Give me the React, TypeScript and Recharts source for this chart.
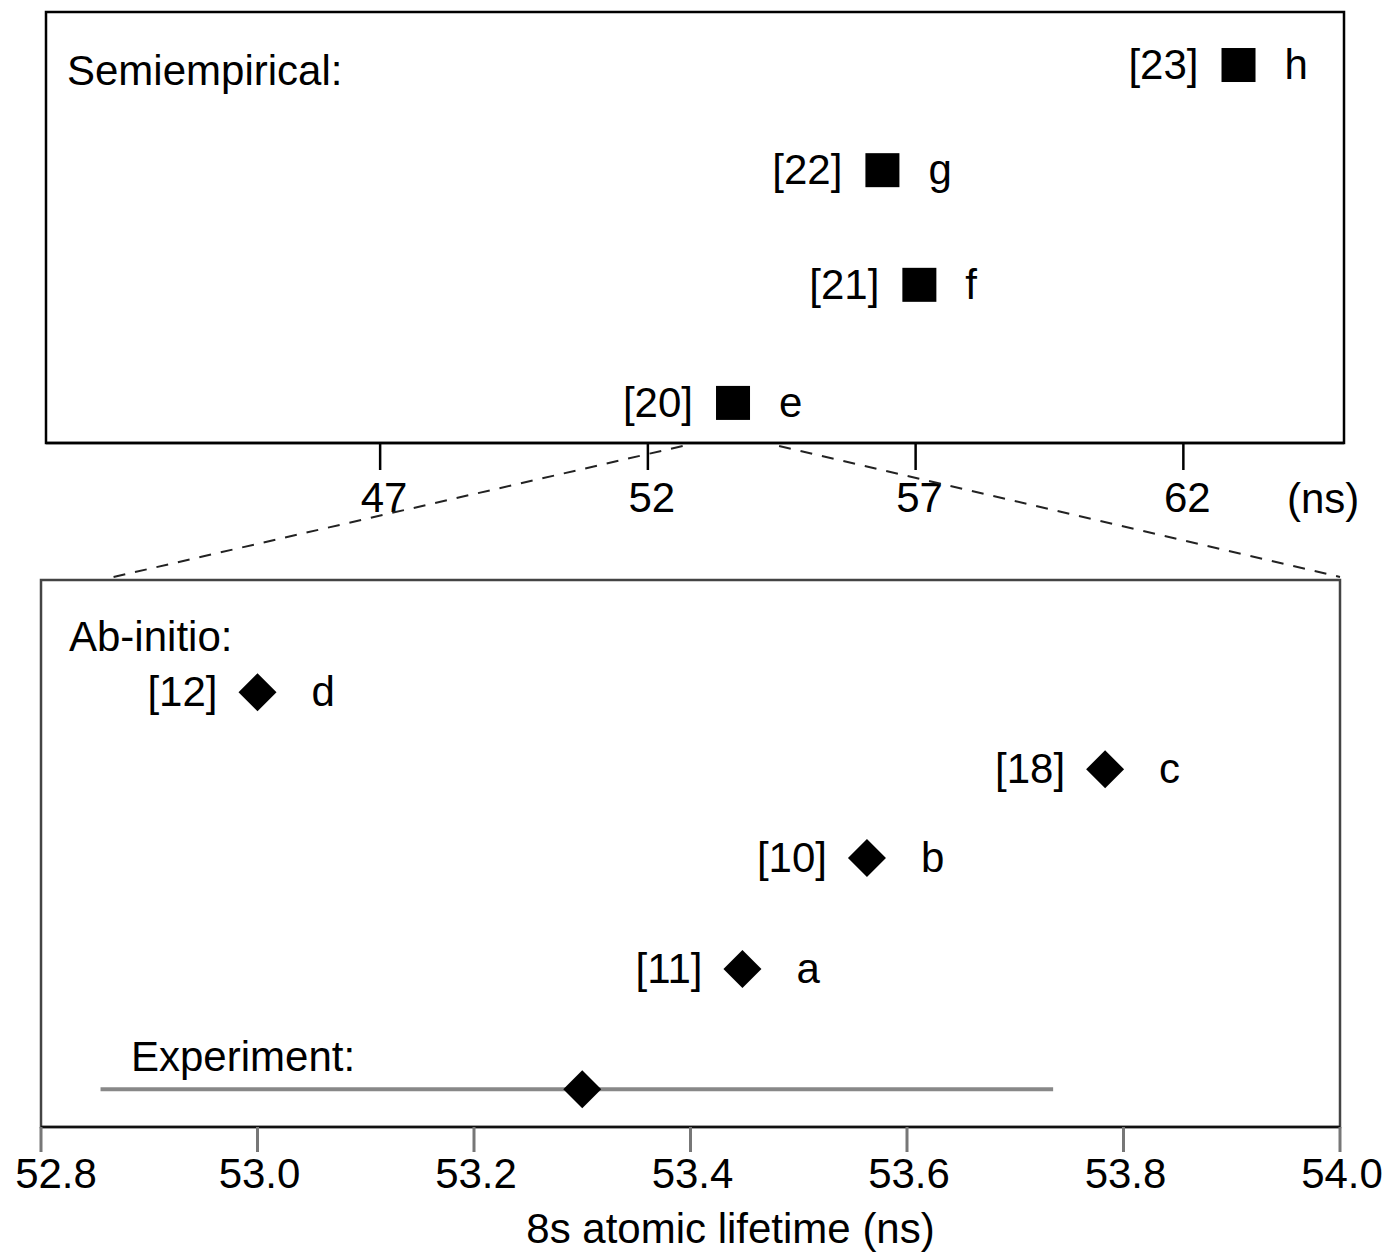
import React from "react";
import {
  ScatterChart,
  Scatter,
  XAxis,
  YAxis,
  ReferenceArea,
  ErrorBar,
  Label,
} from "recharts";

// semiempirical results (top panel, coarse scale)
const semiRefs = ["[20]", "[21]", "[22]", "[23]"];
const semiTags = ["e", "f", "g", "h"];
const semiValues = [53.59, 57.07, 56.38, 63.03];
const semiRows = [0.93, 3.67, 6.33, 8.77];
const topTicks = [47, 52, 57, 62];

// ab-initio results (bottom panel, fine scale)
const abRefs = ["[11]", "[10]", "[18]", "[12]"];
const abTags = ["a", "b", "c", "d"];
const abValues = [53.448, 53.563, 53.783, 53.0];
const abRows = [2.89, 4.92, 6.54, 7.95];

// experiment
const expValue = [53.3];
const expError = [[0.445, 0.435]];
const expRow = [0.69];

const bottomTicks = [52.8, 53.0, 53.2, 53.4, 53.6, 53.8, 54.0];

// zoom connector: [value on top scale, value on bottom scale]
const zoomLinks = [
  [52.65, 52.867],
  [54.45, 54.0],
];

const FONT = "'Liberation Sans', Arial, Helvetica, sans-serif";
const W = 1386;
const H = 1254;

const TOP_DOMAIN: [number, number] = [40.76, 65.0];
const BOT_DOMAIN: [number, number] = [52.8, 54.0];
const topMargin = { top: 12, right: 42, bottom: 0, left: 46 };
const botMargin = { top: 40, right: 46, bottom: 0, left: 41 };

const semiData = semiValues.map((v, i) => ({
  x: v,
  y: semiRows[i],
  ref: semiRefs[i],
  tag: semiTags[i],
}));
const abData = abValues.map((v, i) => ({
  x: v,
  y: abRows[i],
  ref: abRefs[i],
  tag: abTags[i],
}));
const expData = expValue.map((v, i) => ({ x: v, y: expRow[i], err: expError[i] }));

const topX = (v: number) =>
  topMargin.left +
  ((v - TOP_DOMAIN[0]) / (TOP_DOMAIN[1] - TOP_DOMAIN[0])) *
    (W - topMargin.left - topMargin.right);
const botX = (v: number) =>
  botMargin.left +
  ((v - BOT_DOMAIN[0]) / (BOT_DOMAIN[1] - BOT_DOMAIN[0])) *
    (W - botMargin.left - botMargin.right);

const textStyle = { fontFamily: FONT, fontSize: 42, fill: "#000" };

const SquareMark = (props: any) => {
  const { cx, cy, payload } = props;
  return (
    <g>
      <rect x={cx - 17} y={cy - 17} width={34} height={34} fill="#000" />
      <text x={cx - 40} y={cy + 14} textAnchor="end" style={textStyle}>
        {payload.ref}
      </text>
      <text x={cx + 46} y={cy + 14} textAnchor="start" style={textStyle}>
        {payload.tag}
      </text>
    </g>
  );
};

const DiamondMark = (props: any) => {
  const { cx, cy, payload } = props;
  const r = 19;
  return (
    <g>
      <polygon
        points={`${cx},${cy - r} ${cx + r},${cy} ${cx},${cy + r} ${cx - r},${cy}`}
        fill="#000"
      />
      {payload.ref && (
        <text x={cx - 40} y={cy + 14} textAnchor="end" style={textStyle}>
          {payload.ref}
        </text>
      )}
      {payload.tag && (
        <text x={cx + 54} y={cy + 14} textAnchor="start" style={textStyle}>
          {payload.tag}
        </text>
      )}
    </g>
  );
};

// tick labels sit a little right of their ticks; the first bottom one more so
const makeTick = (shift: number, firstShift: number, fmt: (v: number) => string) =>
  (props: any) => {
    const { x, y, payload, index } = props;
    return (
      <text
        x={x + (index === 0 ? firstShift : shift)}
        y={y}
        dy="0.71em"
        textAnchor="middle"
        style={textStyle}
      >
        {fmt(payload.value)}
      </text>
    );
  };

const TopTick = makeTick(4, 4, (v) => String(v));
const BottomTick = makeTick(2, 15, (v) => v.toFixed(1));

export default function App() {
  return (
    <div
      style={{
        position: "absolute",
        left: 0,
        top: 0,
        width: W,
        height: H,
        background: "#fff",
        overflow: "hidden",
      }}
    >
      <div style={{ position: "absolute", left: 0, top: 0 }}>
        <ScatterChart width={W} height={530} margin={topMargin}>
          <XAxis
            type="number"
            dataKey="x"
            domain={TOP_DOMAIN}
            ticks={topTicks}
            allowDataOverflow
            height={87}
            tickSize={27}
            tickMargin={12}
            axisLine={{ stroke: "#000", strokeWidth: 2.5 }}
            tickLine={{ stroke: "#000", strokeWidth: 2.5 }}
            tick={TopTick}
          />
          <YAxis type="number" dataKey="y" domain={[0, 10]} hide />
          <ReferenceArea
            x1={TOP_DOMAIN[0]}
            x2={TOP_DOMAIN[1]}
            y1={0}
            y2={10}
            fill="none"
            stroke="#000"
            strokeWidth={2.5}
          />
          <Scatter
            data={semiData}
            shape={SquareMark}
            isAnimationActive={false}
          />
        </ScatterChart>
      </div>

      <div style={{ position: "absolute", left: 0, top: 540 }}>
        <ScatterChart width={W} height={714} margin={botMargin}>
          <XAxis
            type="number"
            dataKey="x"
            domain={BOT_DOMAIN}
            ticks={bottomTicks}
            allowDataOverflow
            height={127}
            tickSize={25}
            tickMargin={6}
            axisLine={{ stroke: "#111", strokeWidth: 2.5 }}
            tickLine={{ stroke: "#777", strokeWidth: 3 }}
            tick={BottomTick}
          >
            <Label
              value="8s atomic lifetime (ns)"
              position="insideBottom"
              offset={11}
              dx={40}
              style={{ ...textStyle }}
            />
          </XAxis>
          <YAxis type="number" dataKey="y" domain={[0, 10]} hide />
          <ReferenceArea
            x1={BOT_DOMAIN[0]}
            x2={BOT_DOMAIN[1]}
            y1={0}
            y2={10}
            fill="none"
            stroke="#444"
            strokeWidth={2.5}
          />
          <Scatter data={expData} shape={DiamondMark} isAnimationActive={false}>
            <ErrorBar
              dataKey="err"
              direction="x"
              width={0}
              stroke="#888"
              strokeWidth={4}
            />
          </Scatter>
          <Scatter data={abData} shape={DiamondMark} isAnimationActive={false} />
        </ScatterChart>
      </div>

      <svg
        width={W}
        height={H}
        style={{ position: "absolute", left: 0, top: 0, pointerEvents: "none" }}
      >
        <text x={67} y={85} style={textStyle}>
          Semiempirical:
        </text>
        <text x={69} y={651} style={textStyle}>
          Ab-initio:
        </text>
        <text x={131} y={1071} style={textStyle}>
          Experiment:
        </text>
        <text x={1287} y={513} style={textStyle}>
          (ns)
        </text>
        {zoomLinks.map(([t, b], i) => (
          <line
            key={i}
            x1={topX(t)}
            y1={446}
            x2={botX(b)}
            y2={577}
            stroke="#222"
            strokeWidth={2}
            strokeDasharray="12 10"
          />
        ))}
      </svg>
    </div>
  );
}
